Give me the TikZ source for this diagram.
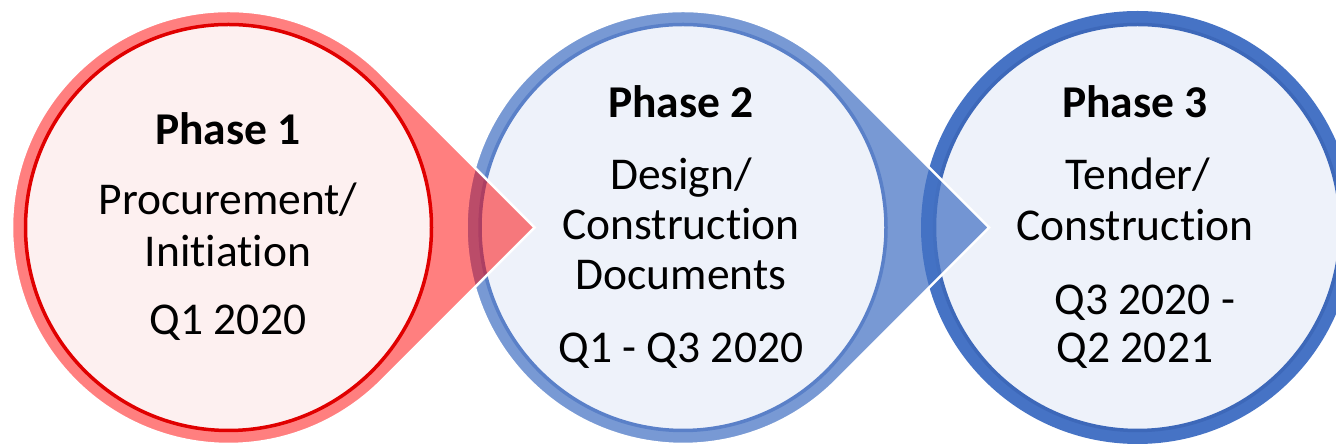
\documentclass[tikz,border=0pt]{standalone}
\usepackage{fontspec}
\setmainfont{Carlito}[Ligatures=NoCommon]
\definecolor{tearred}{HTML}{FF0000}
\definecolor{fillA}{HTML}{FDF0F0}
\definecolor{lineA}{HTML}{E00000}
\definecolor{tearblue}{HTML}{4472C4}
\definecolor{fillB}{HTML}{EEF2FA}
\definecolor{lineB}{HTML}{5A80C8}
\definecolor{ringC}{HTML}{4673C5}
\definecolor{lineC}{HTML}{3D68B9}
\begin{document}
\begin{tikzpicture}[x=1pt,y=1pt,
  txt/.style={anchor=base, inner sep=0pt, font=\fontsize{45.5}{50}\selectfont},
  ttl/.style={anchor=base, inner sep=0pt, font=\fontsize{45.5}{50}\selectfont\bfseries},
  tear/.style={draw=white, line width=2.5pt},
  inner/.style={circle, inner sep=0pt, minimum size=406pt, line width=3.5pt},
]
\useasboundingbox (0,0) rectangle (1336,446);
% phase 3 circle
\fill[ringC] (1137.5,218.5) circle (216.5);
\node[inner, fill=fillB, draw=lineC] (p3) at (1137.5,218.5) {};
% phase 2 teardrop
\filldraw[tear, fill=tearblue, fill opacity=0.72]
  (989.2,218.5) -- (836.1,371.6) arc[start angle=45, end angle=315, radius=216.5] -- cycle;
\node[inner, fill=fillB, draw=lineB] (p2) at (683,218.5) {};
% phase 1 teardrop
\filldraw[tear, fill=tearred, fill opacity=0.5]
  (534.7,218.5) -- (381.6,371.6) arc[start angle=45, end angle=315, radius=216.5] -- cycle;
\node[inner, fill=fillA, draw=lineA] (p1) at (228.5,218.5) {};
% texts phase 1
\node[ttl] (a1) at (228,301) {Phase 1};
\node[txt] (a2) at (228,231) {Procurement/};
\node[txt] (a3) at (228,179) {Initiation};
\node[txt] (a4) at (228,111) {Q1 2020};
% texts phase 2
\node[ttl] (b1) at (681,328) {Phase 2};
\node[txt] (b2) at (681,256) {Design/};
\node[txt] (b3) at (681,206) {Construction};
\node[txt] (b4) at (681,156) {Documents};
\node[txt] (b5) at (681,83) {Q1 - Q3 2020};
% texts phase 3
\node[ttl] (c1) at (1135,328) {Phase 3};
\node[txt] (c2) at (1138,256) {Tender/};
\node[txt] (c3) at (1135,205) {Construction};
\node[txt] (c4) at (1145,131) {Q3 2020 -};
\node[txt] (c5) at (1135,83) {Q2 2021};
\end{tikzpicture}
\end{document}
